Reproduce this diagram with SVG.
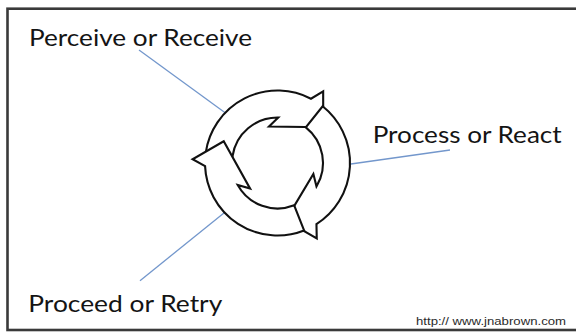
<svg xmlns="http://www.w3.org/2000/svg" xmlns:xlink="http://www.w3.org/1999/xlink" width="576" height="333" viewBox="0 0 576 333">
  <style>
    .frame { fill: #ffffff; stroke: #3a3a3a; stroke-width: 2.6; }
    .arrow { fill: #ffffff; stroke: #111111; stroke-width: 2.1; stroke-linejoin: miter; }
    .label { font-family: Lato, "Open Sans", "Liberation Sans", sans-serif; font-size: 23px; fill: #141414; }
    .url { font-family: "Liberation Sans", Arial, sans-serif; font-size: 10px; fill: #2a2a2a; }
    .leader { stroke: #7397cc; stroke-width: 1.3; fill: none; }
  </style>
  <defs>
    <!-- one curved block arrow of the cycle, centred on the origin, head tip on the +x axis -->
    <path id="cycle-arrow" class="arrow"
      d="M -29.49,-66.23 A 72.5 72.5 0 0 1 72.22,-6.32 L 85,0 L 54.67,19.36 L 26.24,-26.79 L 38.79,-23.77 A 45.5 45.5 0 0 0 -18.51,-41.57 Z"/>
  </defs>

  <rect x="0" y="0" width="576" height="333" fill="#ffffff"/>
  <rect class="frame" x="7.5" y="8.7" width="600" height="321.3"/>

  <!-- leader lines from the labels to the ring -->
  <g id="connectors">
    <line class="leader" x1="139" y1="50" x2="231" y2="117"/>
    <line class="leader" x1="336.7" y1="166" x2="450" y2="150"/>
    <line class="leader" x1="231.7" y1="206.7" x2="140" y2="280.7"/>
  </g>

  <!-- three arrows, each drawn over the tail/head of the previous one -->
  <g id="arrow-top">
    <use xlink:href="#cycle-arrow" transform="translate(277.5,163) rotate(-57.5)"/>
  </g>
  <g id="arrow-right">
    <use xlink:href="#cycle-arrow" transform="translate(277.5,163) rotate(62.5)"/>
  </g>
  <g id="arrow-left">
    <use xlink:href="#cycle-arrow" transform="translate(277.5,163) rotate(182.5)"/>
  </g>

  <g id="label-perceive">
    <text class="label" x="29" y="45.5" textLength="223" lengthAdjust="spacingAndGlyphs">Perceive or Receive</text>
  </g>
  <g id="label-process">
    <text class="label" x="372.7" y="143" textLength="189" lengthAdjust="spacingAndGlyphs">Process or React</text>
  </g>
  <g id="label-proceed">
    <text class="label" x="28.3" y="312" textLength="194" lengthAdjust="spacingAndGlyphs">Proceed or Retry</text>
  </g>
  <g id="credit">
    <text class="url" x="416" y="325" textLength="150" lengthAdjust="spacingAndGlyphs">http:// www.jnabrown.com</text>
  </g>
</svg>
